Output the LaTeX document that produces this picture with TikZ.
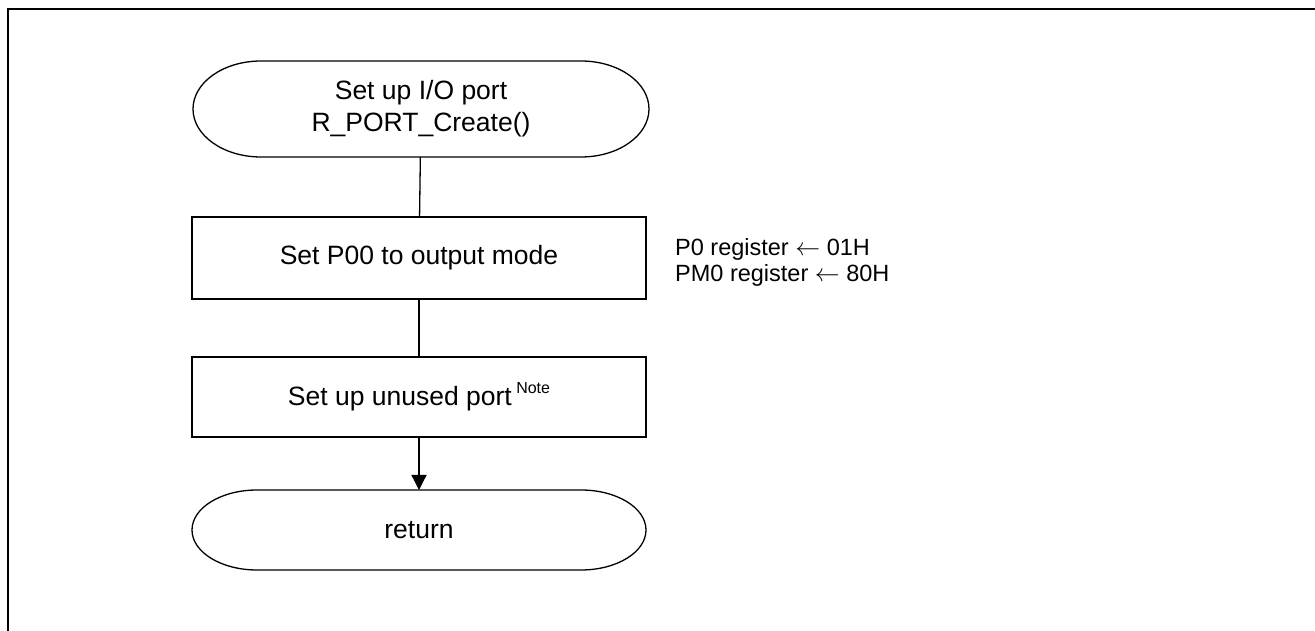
\documentclass[tikz,border=0pt]{standalone}
\usepackage{fontspec}
\setmainfont{Liberation Sans}
\usetikzlibrary{arrows.meta}
\tikzset{
  x=1pt, y=1pt,
  ln/.style={line width=1.3pt, draw=black},
  frameln/.style={line width=2pt, draw=black},
  boxtext/.style={font=\fontsize{26.5}{32}\selectfont, align=center, inner sep=0pt, outer sep=0pt},
  procbox/.style={boxtext, ln, minimum width=454pt, minimum height=#1},
  termnode/.style={boxtext, minimum width=456pt, minimum height=#1},
  annot/.style={font=\fontsize{23.5}{26}\selectfont, align=left, inner sep=0pt, anchor=west},
  arr/.style={ln, -{Triangle[length=15pt,width=15pt]}}
}
\newcommand{\stadium}[3]{% node, x radius, y radius
  \draw[ln] ([xshift=#2pt]#1.north west) -- ([xshift=-#2pt]#1.north east)
    arc[start angle=90,end angle=-90,x radius=#2pt,y radius=#3pt]
    -- ([xshift=#2pt]#1.south west)
    arc[start angle=270,end angle=90,x radius=#2pt,y radius=#3pt] -- cycle;}
\begin{document}
\begin{tikzpicture}
\useasboundingbox (0,0) rectangle (1315,631);
\draw[frameln] (8,0) -- (8,622) -- (1315,622);

\node[termnode=96pt] (start) at (421,522) {Set up I/O port\\R\_PORT\_Create()};
\stadium{start}{68}{48}

\node[procbox=82pt] (b1) at (419,373) {Set P00 to output mode};
\node[procbox=80pt] (b2) at (419,234) {Set up unused port\,\raisebox{12pt}{\fontsize{16}{16}\selectfont Note}};

\node[termnode=80pt, minimum width=454pt] (ret) at (419,101) {return};
\stadium{ret}{65}{40}

\node[annot] (regs) at (675,369) {P0 register $\leftarrow$ 01H\\PM0 register $\leftarrow$ 80H};

\draw[ln] (start) -- (b1);
\draw[ln] (b1) -- (b2);
\draw[arr] (b2) -- (ret);
\end{tikzpicture}
\end{document}
